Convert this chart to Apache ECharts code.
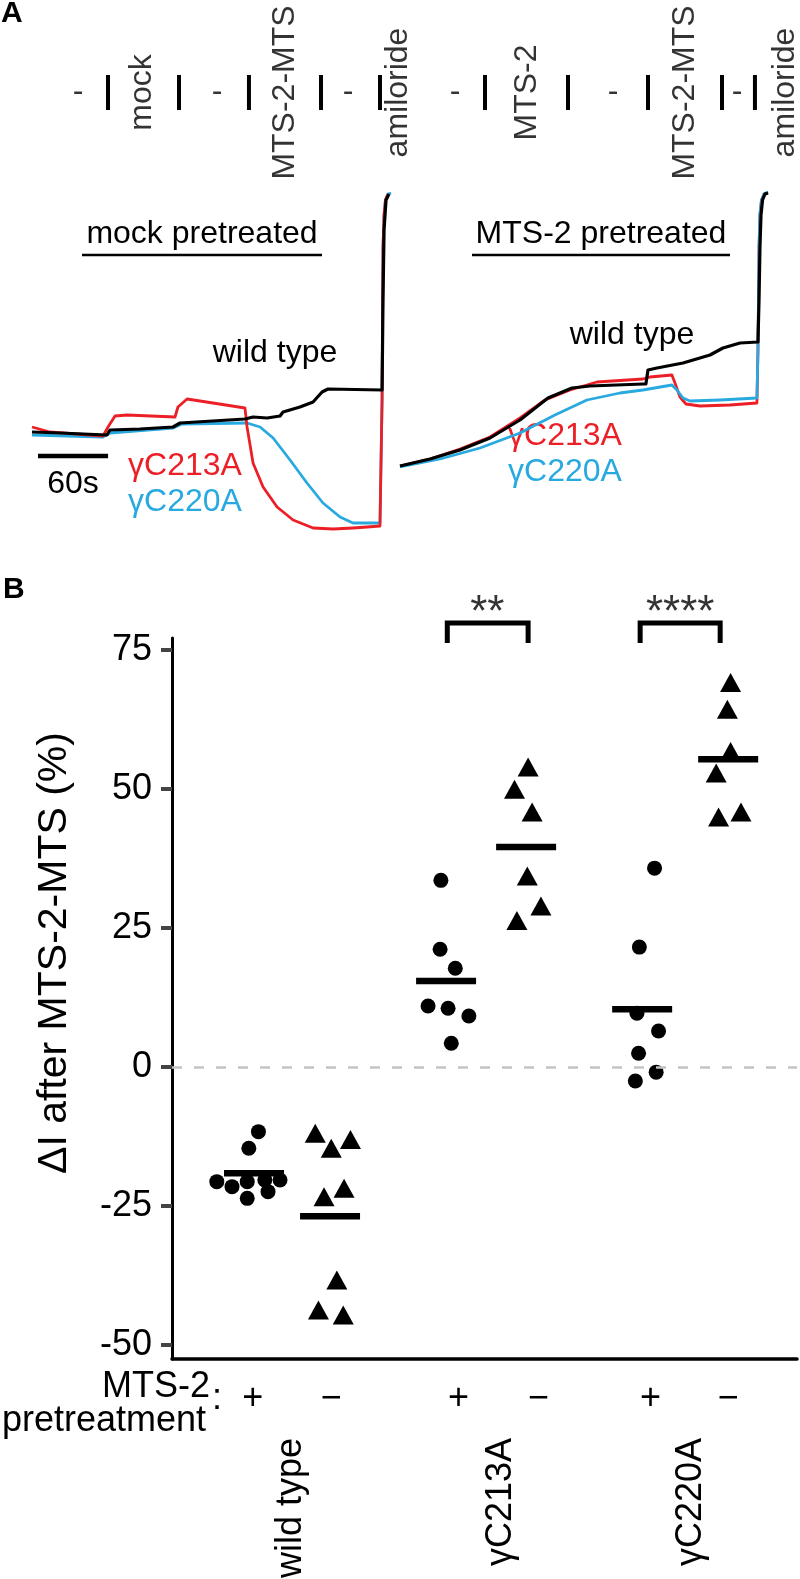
<!DOCTYPE html>
<html><head><meta charset="utf-8">
<script src="https://cdn.jsdelivr.net/npm/echarts@6/dist/echarts.min.js"></script>
<style>html,body{margin:0;padding:0;background:#fff}#c{width:800px;height:1579px}</style>
</head><body><div id="c"></div>
<script>
// ---------- Panel A : current traces (time s, current a.u.) ----------
const mockBlackT = [1.7,25.7,65.9,68.5,94.2,122.5,128.5,184.1,191.0,203.0,214.1,216.7,231.2,242.4,250.1,255.2,301.5,302.3,303.2,304.9,307.4];
const mockBlackI = [0,-1,-3,2,3,5,9,13,15,14,16,20,25,30,40,43,42,132,202,232,238];
const mockRedT = [1.7,17.1,62.5,66.8,72.8,83.1,124.2,126.7,134.5,145.6,184.1,185.9,191.0,199.6,211.6,225.3,242.4,259.5,276.6,288.6,299.7,301.5,302.3,303.2,304.4,306.6];
const mockRedI = [5,0,-4,5,16,17,15,25,33,31,24,5,-31,-55,-75,-88,-96,-97,-96,-95,-94,32,185,217,232,238];
const mockBlueT = [1.7,62.5,68.5,122.5,130.2,185.9,197.0,208.2,222.7,237.2,250.9,265.5,276.6,288.6,299.7,301.5,302.3,303.2,304.4,306.6,309.2];
const mockBlueI = [-3,-5,-1,4,8,9,5,-6,-28,-51,-71,-85,-91,-91,-91,32,185,217,232,238,239];

const mtsBlackT = [0,25.7,51.4,77.1,102.8,126.7,147.3,162.7,208.1,210.6,212.4,220.1,242.4,265.5,276.6,291.2,306.6,307.5,308.3,309.2,310.5,312.6,315.2];
const mtsBlackI = [0,7,16,28,46,68,78,80,82,82,96,98,103,111,118,123,124,166,219,251,266,272,273];
const mtsRedT = [0,25.7,51.4,77.1,102.8,124.2,145.6,168.7,208.1,214.1,232.9,235.5,239.8,244.9,256.9,282.6,305.7,306.6,307.5,308.3,309.6,311.8,314.3];
const mtsRedI = [0,7,17,29,48,66,76,84,87,89,91,83,69,62,60,61,63,116,219,251,266,272,273];
const mtsBlueT = [0,34.3,68.5,102.8,132.7,160.1,188.4,208.1,232.9,237.2,242.4,248.4,274.1,305.7,306.6,307.5,308.3,309.6,311.8,315.2];
const mtsBlueI = [-1,7,18,33,51,66,73,76,81,76,68,65,66,68,116,219,251,266,272,274];

// solution changes (s) and protocol labels
const mockEvents = [66.8,127.6,187.5,249.2,299.7];
const mockLabelT = [41.1,95.9,160.1,218.4,272.3,315.1];
const mockLabels = ['-','mock','-','MTS-2-MTS','-','amiloride'];
const mtsEvents = [72.8,143.9,212.4,275.8,304.0];
const mtsLabelT = [47.1,108.8,182.4,244.1,288.6,329.7];
const mtsLabels = ['-','MTS-2','-','MTS-2-MTS','-','amiloride'];
const scaleBarT = [6.85,66.85]; // 60 s
const scaleBarI = -24;

// ---------- Panel B : ΔI after MTS-2-MTS (%) ----------
const groupNames = ['wild type','γC213A','γC220A'];
const pretreat = ['+','−','+','−','+','−'];
const groupX = [1.01,1.99,3.58,4.58,5.98,6.95];
const meanX = [1.025,1.975,3.425,4.425,5.875,6.95];
const means = [-19.1,-26.8,15.5,39.6,10.4,55.4];

const wtPlusX = [0.56,0.75,0.94,1.16,1.35,1.08,0.96,1.2,0.94];
const wtPlusY = [-20.6,-21.5,-20.6,-20.3,-20.3,-11.6,-14.6,-22.4,-23.6];
const wtMinusX = [1.79,2.23,1.99,2.15,1.9,2.06,1.83,2.14];
const wtMinusY = [-11.9,-13.0,-14.6,-21.8,-23.3,-38.3,-43.7,-44.6];
const c213PlusX = [3.36,3.35,3.54,3.2,3.45,3.71,3.49];
const c213PlusY = [33.6,21.2,17.8,11.0,10.6,9.2,4.3];
const c213MinusX = [4.45,4.28,4.5,4.44,4.61,4.31];
const c213MinusY = [54.0,50.0,45.9,34.4,29.0,26.4];
const c220PlusX = [6.03,5.84,5.81,6.08,5.83,6.05,5.79];
const c220PlusY = [35.8,21.6,9.7,6.5,2.5,-0.9,-2.5];
const c220MinusX = [6.98,6.94,6.98,6.8,6.83,7.11];
const c220MinusY = [69.2,64.4,56.8,52.9,45.0,45.9];

const yTicks = [-50,-25,0,25,50,75];
const brackets = [[3.44,4.45],[5.85,6.85]];
const bracketTop = 79.9, bracketLeg = 76.3;
const sigX = [3.94,6.35];
const sigText = ['**','****'];
const sigY = 81.5;

// ---------- build ----------
const FONT = 'Liberation Sans, Arial, Helvetica, sans-serif';
const RED = '#ec1f27', BLUE = '#28a9e0';
const zip = (a,b) => a.map((v,i)=>[v,b[i]]);

function trace(name, t, I, color, w, idx, z){
  return {type:'line', name, data: zip(t,I), xAxisIndex: idx, yAxisIndex: idx, showSymbol:false, symbol:'none',
    lineStyle:{color, width:w, join:'round', opacity:1}, z, silent:true, animation:false, clip:false};
}
function eventBars(ev, idx){
  return {type:'scatter', data: ev.map(t=>[t,0.5]), xAxisIndex: idx, yAxisIndex: idx, symbol:'rect',
    symbolSize:[4,35], itemStyle:{color:'#000', opacity:1}, silent:true, animation:false, clip:false};
}
function eventLabels(ts, labels, idx){
  return {type:'scatter', xAxisIndex: idx, yAxisIndex: idx, symbolSize:1, itemStyle:{color:'rgba(0,0,0,0)'},
    data: ts.map((t,i)=>({value:[t,0.5], name: labels[i], label:{rotate: labels[i].length>1 ? 90 : 0}})),
    label:{show:true, position:'inside', formatter: p=>p.name, fontSize:32, fontFamily:FONT, color:'#000'},
    silent:true, animation:false, clip:false};
}
function pts(xs, ys, sym, size){
  return {type:'scatter', xAxisIndex:4, yAxisIndex:4, data: zip(xs,ys), symbol: sym, symbolSize: size,
    itemStyle:{color:'#000', opacity:1}, silent:true, animation:false, z:3};
}

const option = {
  backgroundColor:'#fff',
  animation:false,
  grid:[
    {left:30, top:190, width:362, height:345},
    {left:400, top:190, width:370, height:345},
    {left:30, top:0, width:362, height:185},
    {left:400, top:0, width:370, height:185},
    {left:172, top:638, right:3, bottom:220}
  ],
  xAxis:[
    {type:'value', gridIndex:0, min:0, max:310, show:false},
    {type:'value', gridIndex:1, min:0, max:316.9, show:false},
    {type:'value', gridIndex:2, min:0, max:310, show:false},
    {type:'value', gridIndex:3, min:0, max:316.9, show:false},
    {type:'value', gridIndex:4, min:0, max:7.81,
      axisLine:{show:true, onZero:false, lineStyle:{color:'#000', width:3.5}},
      axisTick:{show:false}, splitLine:{show:false},
      axisLabel:{customValues: groupX, margin:22, fontSize:36, fontFamily:FONT, color:'#000',
        formatter: v => { const i = groupX.findIndex(g=>Math.abs(g-v)<1e-6); return i>=0 ? pretreat[i] : ''; }}}
  ],
  yAxis:[
    {type:'value', gridIndex:0, min:-103, max:242, show:false},
    {type:'value', gridIndex:1, min:-69, max:276, show:false},
    {type:'value', gridIndex:2, min:0, max:1, show:false},
    {type:'value', gridIndex:3, min:0, max:1, show:false},
    {type:'value', gridIndex:4, min:-52.5, max:77.2,
      axisLine:{show:true, onZero:false, lineStyle:{color:'#000', width:3}},
      axisTick:{show:true, customValues: yTicks, length:11, lineStyle:{color:'#444', width:4}},
      splitLine:{show:false},
      axisLabel:{customValues: yTicks, margin:20, fontSize:36, fontFamily:FONT, color:'#000'}}
  ],
  series:[
    trace('γC220A mock', mockBlueT, mockBlueI, BLUE, 2.8, 0, 2),
    trace('γC213A mock', mockRedT, mockRedI, RED, 2.8, 0, 3),
    trace('wild type mock', mockBlackT, mockBlackI, '#000', 3.2, 0, 4),
    trace('γC213A MTS', mtsRedT, mtsRedI, RED, 2.8, 1, 2),
    trace('γC220A MTS', mtsBlueT, mtsBlueI, BLUE, 2.8, 1, 3),
    trace('wild type MTS', mtsBlackT, mtsBlackI, '#000', 3.2, 1, 4),
    {type:'line', data:[[scaleBarT[0],scaleBarI],[scaleBarT[1],scaleBarI]], xAxisIndex:0, yAxisIndex:0,
      showSymbol:false, symbol:'none', lineStyle:{color:'#000', width:4.5, opacity:1}, silent:true, clip:false},
    eventBars(mockEvents, 2), eventBars(mtsEvents, 3),
    eventLabels(mockLabelT, mockLabels, 2), eventLabels(mtsLabelT, mtsLabels, 3),
    pts(wtPlusX, wtPlusY, 'circle', 15),
    pts(wtMinusX, wtMinusY, 'triangle', [21,19]),
    pts(c213PlusX, c213PlusY, 'circle', 15),
    pts(c213MinusX, c213MinusY, 'triangle', [21,19]),
    pts(c220PlusX, c220PlusY, 'circle', 15),
    pts(c220MinusX, c220MinusY, 'triangle', [21,19]),
    {type:'scatter', xAxisIndex:4, yAxisIndex:4, data: zip(meanX, means), symbol:'rect', symbolSize:[60,6.5],
      itemStyle:{color:'#000', opacity:1}, silent:true, z:4,
      markLine:{silent:true, symbol:'none', label:{show:false}, animation:false,
        lineStyle:{color:'#c4c4c4', width:2.5, type:[10,12], opacity:1}, data:[{yAxis:0}]}},
    ...brackets.map(b => ({type:'line', xAxisIndex:4, yAxisIndex:4, clip:false, showSymbol:false, symbol:'none',
      data:[[b[0],bracketLeg],[b[0],bracketTop],[b[1],bracketTop],[b[1],bracketLeg]],
      lineStyle:{color:'#000', width:5, join:'miter', cap:'butt', opacity:1}, silent:true})),
    {type:'scatter', xAxisIndex:4, yAxisIndex:4, clip:false, symbolSize:1, itemStyle:{color:'rgba(0,0,0,0)'},
      data: sigX.map((x,i)=>({value:[x,sigY], name:sigText[i]})),
      label:{show:true, position:'inside', formatter:p=>p.name, fontSize:44, fontFamily:FONT, color:'#000'}, silent:true}
  ],
  graphic:{elements:[
    {type:'text', x:1, y:14, style:{text:'A', fontSize:30, fontWeight:'bold', fontFamily:FONT, fill:'#000', align:'left', verticalAlign:'middle', textAlign:'left', textVerticalAlign:'middle'}},
    {type:'text', x:3, y:590, style:{text:'B', fontSize:30, fontWeight:'bold', fontFamily:FONT, fill:'#000', align:'left', verticalAlign:'middle', textAlign:'left', textVerticalAlign:'middle'}},
    {type:'text', x:202, y:234, style:{text:'mock pretreated', fontSize:32, fontFamily:FONT, fill:'#000', align:'center', verticalAlign:'middle', textAlign:'center', textVerticalAlign:'middle'}},
    {type:'line', shape:{x1:82, y1:255, x2:322, y2:255}, style:{stroke:'#000', lineWidth:2.5}},
    {type:'text', x:601, y:234, style:{text:'MTS-2 pretreated', fontSize:32, fontFamily:FONT, fill:'#000', align:'center', verticalAlign:'middle', textAlign:'center', textVerticalAlign:'middle'}},
    {type:'line', shape:{x1:472, y1:255, x2:730, y2:255}, style:{stroke:'#000', lineWidth:2.5}},
    {type:'text', x:275, y:353, style:{text:'wild type', fontSize:32, fontFamily:FONT, fill:'#000', align:'center', verticalAlign:'middle', textAlign:'center', textVerticalAlign:'middle'}},
    {type:'text', x:632, y:335, style:{text:'wild type', fontSize:32, fontFamily:FONT, fill:'#000', align:'center', verticalAlign:'middle', textAlign:'center', textVerticalAlign:'middle'}},
    {type:'text', x:185, y:466, style:{text:'γC213A', fontSize:32, fontFamily:FONT, fill:RED, align:'center', verticalAlign:'middle', textAlign:'center', textVerticalAlign:'middle'}},
    {type:'text', x:185, y:502, style:{text:'γC220A', fontSize:32, fontFamily:FONT, fill:BLUE, align:'center', verticalAlign:'middle', textAlign:'center', textVerticalAlign:'middle'}},
    {type:'text', x:565, y:436, style:{text:'γC213A', fontSize:32, fontFamily:FONT, fill:RED, align:'center', verticalAlign:'middle', textAlign:'center', textVerticalAlign:'middle'}},
    {type:'text', x:565, y:472, style:{text:'γC220A', fontSize:32, fontFamily:FONT, fill:BLUE, align:'center', verticalAlign:'middle', textAlign:'center', textVerticalAlign:'middle'}},
    {type:'text', x:73, y:484, style:{text:'60s', fontSize:32, fontFamily:FONT, fill:'#000', align:'center', verticalAlign:'middle', textAlign:'center', textVerticalAlign:'middle'}},
    {type:'text', x:55, y:953, rotation:Math.PI/2, style:{text:'ΔI after MTS-2-MTS (%)', fontSize:41, fontFamily:FONT, fill:'#000', align:'center', verticalAlign:'middle', textAlign:'center', textVerticalAlign:'middle'}},
    {type:'text', x:210, y:1387, style:{text:'MTS-2', fontSize:36, fontFamily:FONT, fill:'#000', align:'right', verticalAlign:'middle', textAlign:'right', textVerticalAlign:'middle'}},
    {type:'text', x:206, y:1421, style:{text:'pretreatment', fontSize:36, fontFamily:FONT, fill:'#000', align:'right', verticalAlign:'middle', textAlign:'right', textVerticalAlign:'middle'}},
    {type:'text', x:217, y:1399, style:{text:':', fontSize:36, fontFamily:FONT, fill:'#000', align:'center', verticalAlign:'middle', textAlign:'center', textVerticalAlign:'middle'}},
    {type:'text', x:291, y:1438, rotation:Math.PI/2, style:{text:groupNames[0], fontSize:36, fontFamily:FONT, fill:'#000', align:'right', verticalAlign:'middle', textAlign:'right', textVerticalAlign:'middle'}},
    {type:'text', x:501, y:1438, rotation:Math.PI/2, style:{text:groupNames[1], fontSize:36, fontFamily:FONT, fill:'#000', align:'right', verticalAlign:'middle', textAlign:'right', textVerticalAlign:'middle'}},
    {type:'text', x:691, y:1438, rotation:Math.PI/2, style:{text:groupNames[2], fontSize:36, fontFamily:FONT, fill:'#000', align:'right', verticalAlign:'middle', textAlign:'right', textVerticalAlign:'middle'}}
  ]}
};
const chart = echarts.init(document.getElementById('c'), null, {renderer:'canvas'});
chart.setOption(option);
</script></body></html>
